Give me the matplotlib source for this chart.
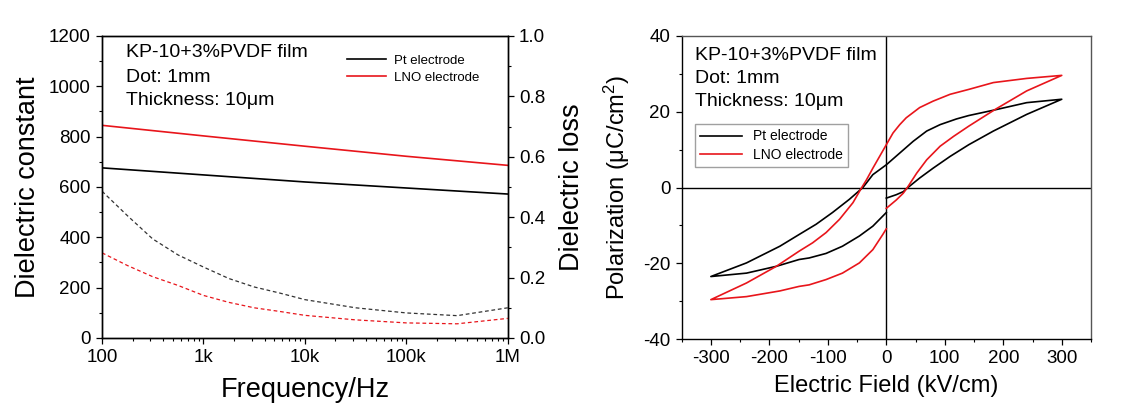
import matplotlib
matplotlib.use("Agg")
import matplotlib.pyplot as plt
from matplotlib.ticker import FixedLocator, MultipleLocator, LogLocator, NullFormatter, FormatStrFormatter

plt.rcParams['font.family'] = ['Liberation Sans', 'DejaVu Sans']
plt.rcParams['mathtext.fontset'] = 'custom'
plt.rcParams['mathtext.rm'] = 'Liberation Sans'
plt.rcParams['mathtext.it'] = 'Liberation Sans:italic'
plt.rcParams['axes.unicode_minus'] = False

# ---------------- Left panel data ----------------
freq_solid = [100, 1e3, 1e4, 1e5, 1e6]
eps_pt = [676, 648, 620, 596, 572]
eps_lno = [845, 803, 762, 722, 686]

freq_loss = [100, 178, 316, 562, 1000, 1778, 3162, 5623, 10000, 31623, 100000, 316228, 1000000]
loss_pt = [0.486, 0.405, 0.328, 0.275, 0.235, 0.197, 0.169, 0.149, 0.127, 0.100, 0.083, 0.074, 0.100]
loss_lno = [0.282, 0.240, 0.203, 0.174, 0.141, 0.118, 0.100, 0.088, 0.075, 0.060, 0.050, 0.047, 0.065]

freq_ticks = [100, 1e3, 1e4, 1e5, 1e6]
freq_ticklabels = ['100', '1k', '10k', '100k', '1M']

# ---------------- Right panel data (P-E loops) ----------------
E_pt = [0, 17, 29, 37, 57, 80, 109, 141, 183, 240, 300,
        240, 183, 141, 120, 92, 69, 46, 23, 0, -23, -40, -63, -92, -120, -149, -182, -239, -300,
        -239, -188, -149, -132, -103, -75, -46, -23, 0]
P_pt = [-2.8, -1.9, -1.1, 0, 2.5, 5.1, 8.2, 11.3, 14.9, 19.3, 23.3,
        22.4, 20.4, 19.0, 18.1, 16.6, 14.9, 12.2, 9.1, 6.0, 3.4, 0, -3.1, -6.6, -9.7, -12.4, -15.5, -19.9, -23.5,
        -22.6, -20.8, -19.0, -18.6, -17.4, -15.5, -12.8, -10.2, -6.6]

E_lno = [0, 17, 29, 36, 52, 69, 92, 115, 141, 186, 240, 300,
         240, 183, 141, 109, 80, 57, 34, 23, 11.5, 0, -11.5, -23, -34, -42, -57, -80, -103, -126, -149, -188, -239, -300,
         -239, -182, -149, -132, -103, -75, -46, -23, -6, 0]
P_lno = [-5.5, -3.3, -1.5, 0, 3.8, 7.3, 10.9, 13.5, 16.2, 20.6, 25.5, 29.6,
         28.8, 27.7, 25.9, 24.6, 22.8, 21.1, 18.4, 16.6, 14.4, 11.3, 8.2, 5.1, 2.0, 0, -4.0, -8.4, -11.9, -14.6, -16.8, -20.8, -25.2, -29.6,
         -28.8, -27.3, -26.1, -25.7, -24.3, -22.6, -19.9, -16.4, -12.4, -10.9]

RED = '#e8151b'

fig = plt.figure(figsize=(11.36, 4.16), dpi=100)

def style_ticks(ax):
    ax.tick_params(which='major', direction='out', length=4.5, width=0.9, labelsize=13.5)
    ax.tick_params(which='minor', direction='out', length=2.5, width=0.8)
    for s in ax.spines.values():
        s.set_linewidth(1.0)

# ---------------- Left panel ----------------
ax = fig.add_axes([0.0898, 0.1875, 0.447 - 0.0898, 0.9135 - 0.1875])
ax.plot(freq_solid, eps_pt, color='black', lw=1.2, label='Pt electrode')
ax.plot(freq_solid, eps_lno, color=RED, lw=1.2, label='LNO electrode')
ax.set_xscale('log')
ax.set_xlim(100, 1e6)
ax.set_ylim(0, 1200)
ax.xaxis.set_major_locator(FixedLocator(freq_ticks))
ax.set_xticklabels(freq_ticklabels)
ax.xaxis.set_minor_locator(LogLocator(base=10, subs=range(2, 10)))
ax.xaxis.set_minor_formatter(NullFormatter())
ax.yaxis.set_major_locator(MultipleLocator(200))
ax.yaxis.set_minor_locator(MultipleLocator(100))
style_ticks(ax)
ax.tick_params(axis='x', which='both', top=False)
ax.tick_params(axis='y', which='both', right=False)
ax.set_xlabel('Frequency/Hz', fontsize=19.5, labelpad=8)
ax.set_ylabel('Dielectric constant', fontsize=19.5, labelpad=6)

ax2 = ax.twinx()
ax2.plot(freq_loss, loss_pt, color='#333333', lw=0.9, dashes=(3, 2.2))
ax2.plot(freq_loss, loss_lno, color=RED, lw=0.9, dashes=(3, 2.2))
ax2.set_ylim(0, 1.0)
ax2.yaxis.set_major_locator(MultipleLocator(0.2))
ax2.yaxis.set_minor_locator(MultipleLocator(0.1))
ax2.yaxis.set_major_formatter(FormatStrFormatter('%.1f'))
style_ticks(ax2)
ax2.set_ylabel('Dielectric loss', fontsize=19.5, labelpad=10)

for txt, yy in zip(['KP-10+3%PVDF film', 'Dot: 1mm', 'Thickness: 10μm'],
                   [0.946, 0.863, 0.785]):
    ax.text(0.058, yy, txt, transform=ax.transAxes, fontsize=14, va='center', ha='left')

leg = ax.legend(loc='upper left', bbox_to_anchor=(0.59, 0.955), frameon=False,
                fontsize=9.5, handlelength=3.0, handletextpad=0.6, labelspacing=0.35,
                borderaxespad=0)

# ---------------- Right panel ----------------
bx = fig.add_axes([0.600, 0.185, 0.9604 - 0.600, 0.9135 - 0.185])
bx.axhline(0, color='black', lw=1.0, zorder=1)
bx.axvline(0, color='black', lw=1.0, zorder=1)
bx.plot(E_pt, P_pt, color='black', lw=1.2, label='Pt electrode', zorder=3)
bx.plot(E_lno, P_lno, color=RED, lw=1.2, label='LNO electrode', zorder=3)
bx.set_xlim(-350, 350)
bx.set_ylim(-40, 40)
bx.xaxis.set_major_locator(MultipleLocator(100))
bx.xaxis.set_minor_locator(MultipleLocator(50))
bx.yaxis.set_major_locator(MultipleLocator(20))
bx.yaxis.set_minor_locator(MultipleLocator(10))
style_ticks(bx)
bx.tick_params(axis='x', which='both', top=False)
bx.tick_params(axis='y', which='both', right=False)
bx.spines['top'].set_color('#555555')
bx.spines['right'].set_color('#555555')
bx.set_xlabel('Electric Field (kV/cm)', fontsize=17, labelpad=6)
bx.set_ylabel('Polarization (μC/cm$^{2}$)', fontsize=17, labelpad=8)

for txt, yy in zip(['KP-10+3%PVDF film', 'Dot: 1mm', 'Thickness: 10μm'],
                   [0.937, 0.860, 0.783]):
    bx.text(0.032, yy, txt, transform=bx.transAxes, fontsize=14, va='center', ha='left')

leg2 = bx.legend(loc='upper left', bbox_to_anchor=(0.032, 0.71), frameon=True,
                 fancybox=False, edgecolor='#888888', fontsize=10,
                 handlelength=3.0, handletextpad=0.8, labelspacing=0.3,
                 borderaxespad=0, borderpad=0.4)
leg2.get_frame().set_linewidth(1.0)

fig.savefig('out.png', dpi=100)
